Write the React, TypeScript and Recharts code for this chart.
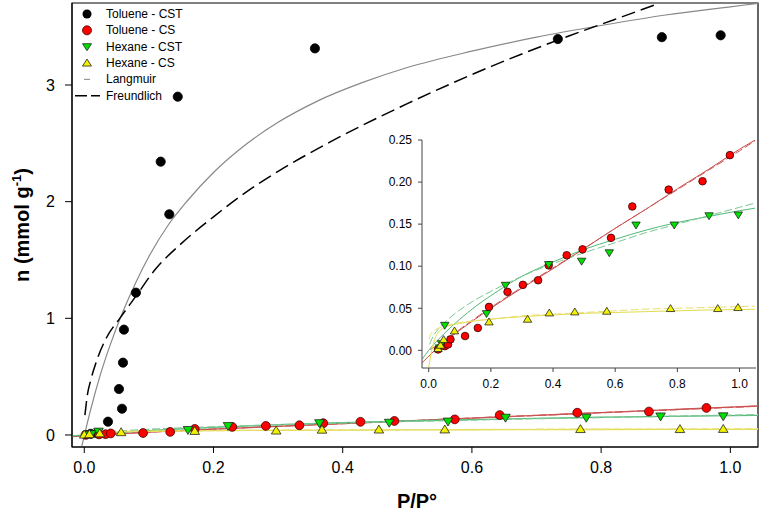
import { ComposedChart, Scatter, Line, XAxis, YAxis, ReferenceArea } from 'recharts'

const tolCstX = [0.01, 0.02, 0.0367, 0.0537, 0.0584, 0.0599, 0.0614, 0.080, 0.1183, 0.1316, 0.1447, 0.357, 0.733, 0.894, 0.985]
const tolCstY = [0.01, 0.015, 0.114, 0.394, 0.225, 0.62, 0.903, 1.22, 2.343, 1.892, 2.90, 3.314, 3.394, 3.41, 3.426]

const tolCsY = [0.001, 0.005, 0.007, 0.013, 0.017, 0.0266, 0.0516, 0.0695, 0.0778, 0.0833, 0.101, 0.113, 0.120, 0.1337, 0.171, 0.191, 0.201, 0.232]
const tolCsXMain = [0.002, 0.023, 0.033, 0.041, 0.091, 0.133, 0.171, 0.229, 0.281, 0.333, 0.37, 0.4275, 0.48, 0.5735, 0.643, 0.763, 0.874, 0.963]
const tolCsXInset = [0.030, 0.052, 0.062, 0.070, 0.117, 0.158, 0.194, 0.2535, 0.303, 0.352, 0.386, 0.444, 0.495, 0.5865, 0.655, 0.772, 0.881, 0.969]

const hexCstY = [0.003, 0.008, 0.0298, 0.0437, 0.0774, 0.102, 0.106, 0.116, 0.149, 0.149, 0.160, 0.161]
const hexCstXMain = [0.005, 0.011, 0.022, 0.1605, 0.2225, 0.364, 0.472, 0.563, 0.652, 0.777, 0.892, 0.989]
const hexCstXInset = [0.035, 0.041, 0.0516, 0.186, 0.247, 0.386, 0.492, 0.581, 0.667, 0.79, 0.902, 0.996]

const hexCsY = [0.002, 0.006, 0.0127, 0.023, 0.0337, 0.0369, 0.0444, 0.0456, 0.0464, 0.0496, 0.0496, 0.0508]
const hexCsXMain = [0.0, 0.008, 0.024, 0.057, 0.171, 0.297, 0.368, 0.456, 0.558, 0.768, 0.922, 0.989]
const hexCsXInset = [0.030, 0.038, 0.048, 0.083, 0.194, 0.318, 0.388, 0.470, 0.573, 0.778, 0.930, 0.995]

// ---- fitted curves ----
const tolLangX = [-0.004, 0.01, 0.024, 0.04, 0.06, 0.08, 0.1, 0.13, 0.16, 0.2, 0.25, 0.3, 0.36, 0.43, 0.5, 0.6, 0.7, 0.8, 0.9, 1.0, 1.043]
const tolLangY = [-0.10, 0.22, 0.50, 0.77, 1.06, 1.31, 1.53, 1.80, 2.01, 2.25, 2.49, 2.68, 2.86, 3.02, 3.15, 3.29, 3.41, 3.51, 3.60, 3.67, 3.70]
const tolFreuX = [0.001, 0.005, 0.01, 0.02, 0.035, 0.055, 0.08, 0.11, 0.15, 0.2, 0.25, 0.3, 0.38, 0.5, 0.63, 0.75, 0.82, 0.89]
const tolFreuY = [0.17, 0.35, 0.47, 0.65, 0.84, 1.00, 1.19, 1.42, 1.64, 1.87, 2.08, 2.26, 2.51, 2.84, 3.16, 3.42, 3.56, 3.70]

const redLangX = [-0.022, 0.05, 0.1, 0.2, 0.3, 0.4, 0.5, 0.6, 0.7, 0.8, 0.9, 1.0, 1.05]
const redLangY = [-0.015, 0.010, 0.024, 0.050, 0.074, 0.097, 0.121, 0.145, 0.168, 0.192, 0.215, 0.239, 0.250]
const redFreuX = [0.005, 0.05, 0.1, 0.2, 0.3, 0.4, 0.5, 0.6, 0.7, 0.8, 0.9, 1.0, 1.05]
const redFreuY = [0.001, 0.011, 0.025, 0.051, 0.075, 0.098, 0.121, 0.145, 0.168, 0.191, 0.214, 0.237, 0.249]

const greenLangX = [-0.02, 0, 0.05, 0.1, 0.15, 0.2, 0.3, 0.4, 0.5, 0.6, 0.7, 0.8, 0.9, 1.0, 1.05]
const greenLangY = [-0.010, 0.000, 0.020, 0.037, 0.052, 0.065, 0.088, 0.105, 0.120, 0.132, 0.143, 0.152, 0.159, 0.166, 0.169]
const greenFreuX = [0.003, 0.01, 0.03, 0.06, 0.1, 0.15, 0.2, 0.3, 0.4, 0.5, 0.6, 0.7, 0.8, 0.9, 1.0, 1.05]
const greenFreuY = [0.007, 0.0135, 0.025, 0.036, 0.048, 0.060, 0.070, 0.088, 0.103, 0.116, 0.128, 0.140, 0.150, 0.160, 0.170, 0.175]

const yellowLangX = [0.0, 0.01, 0.025, 0.05, 0.1, 0.2, 0.3, 0.4, 0.5, 0.6, 0.7, 0.8, 0.9, 1.0, 1.05]
const yellowLangY = [-0.02, 0.0, 0.018, 0.027, 0.032, 0.037, 0.040, 0.042, 0.044, 0.045, 0.046, 0.047, 0.048, 0.0485, 0.0488]
const yellowFreuX = [0.001, 0.005, 0.01, 0.02, 0.035, 0.06, 0.1, 0.2, 0.3, 0.4, 0.5, 0.6, 0.7, 0.8, 0.9, 1.0, 1.05]
const yellowFreuY = [0.013, 0.018, 0.021, 0.024, 0.027, 0.030, 0.033, 0.037, 0.041, 0.043, 0.045, 0.047, 0.049, 0.050, 0.051, 0.052, 0.0525]

const mainXTicks = [0, 0.2, 0.4, 0.6, 0.8, 1.0]
const mainYTicks = [0, 1, 2, 3]
const insetXTicks = [0, 0.2, 0.4, 0.6, 0.8, 1.0]
const insetYTicks = [0, 0.05, 0.1, 0.15, 0.2, 0.25]

const legendItems = ['Toluene - CST', 'Toluene - CS', 'Hexane - CST', 'Hexane - CS', 'Langmuir', 'Freundlich']

const zip = (xs: number[], ys: number[]) => xs.map((x, i) => ({ x, y: ys[i] }))

const FONT = 'Arial, "Liberation Sans", sans-serif'
const RED = '#ff0000'
const GREEN = '#00e000'
const YELLOW = '#f2f200'

const circle = (fill: string, r: number, stroke: string) => (p: any) =>
  <circle cx={p.cx} cy={p.cy} r={r} fill={fill} stroke={stroke} strokeWidth={0.8} />

const triDown = (fill: string, s: number) => (p: any) =>
  <polygon points={`${p.cx - s},${p.cy - s * 0.7} ${p.cx + s},${p.cy - s * 0.7} ${p.cx},${p.cy + s * 0.95}`} fill={fill} stroke="#222" strokeWidth={0.8} />

const triUp = (fill: string, s: number) => (p: any) =>
  <polygon points={`${p.cx - s},${p.cy + s * 0.7} ${p.cx + s},${p.cy + s * 0.7} ${p.cx},${p.cy - s * 0.95}`} fill={fill} stroke="#222" strokeWidth={0.8} />

function fitLines(ax: { xAxisId: string; yAxisId: string }, w: number) {
  return [
    <Line key="rl" {...ax} data={zip(redLangX, redLangY)} dataKey="y" type="monotone" stroke="#d04848" strokeWidth={w} dot={false} activeDot={false} isAnimationActive={false} />,
    <Line key="rf" {...ax} data={zip(redFreuX, redFreuY)} dataKey="y" type="monotone" stroke="#c85a5a" strokeWidth={w} strokeDasharray="8 3" dot={false} activeDot={false} isAnimationActive={false} />,
    <Line key="gl" {...ax} data={zip(greenLangX, greenLangY)} dataKey="y" type="monotone" stroke="#52b878" strokeWidth={w} dot={false} activeDot={false} isAnimationActive={false} />,
    <Line key="gf" {...ax} data={zip(greenFreuX, greenFreuY)} dataKey="y" type="monotone" stroke="#7cc894" strokeWidth={w} strokeDasharray="8 3" dot={false} activeDot={false} isAnimationActive={false} />,
    <Line key="yl" {...ax} data={zip(yellowLangX, yellowLangY)} dataKey="y" type="monotone" stroke="#e2dc4c" strokeWidth={w} dot={false} activeDot={false} isAnimationActive={false} />,
    <Line key="yf" {...ax} data={zip(yellowFreuX, yellowFreuY)} dataKey="y" type="monotone" stroke="#e8e070" strokeWidth={w} strokeDasharray="8 3" dot={false} activeDot={false} isAnimationActive={false} />,
  ]
}

function LegendSymbol({ i, x, y }: { i: number; x: number; y: number }) {
  if (i === 0) return <circle cx={x} cy={y} r={4.5} fill="#000" />
  if (i === 1) return <circle cx={x} cy={y} r={4.5} fill={RED} stroke="#400" strokeWidth={0.8} />
  if (i === 2) return <polygon points={`${x - 4.5},${y - 3} ${x + 4.5},${y - 3} ${x},${y + 4}`} fill={GREEN} stroke="#222" strokeWidth={0.8} />
  if (i === 3) return <polygon points={`${x - 4.5},${y + 3} ${x + 4.5},${y + 3} ${x},${y - 4}`} fill={YELLOW} stroke="#222" strokeWidth={0.8} />
  if (i === 4) return <line x1={x - 3} x2={x + 3} y1={y} y2={y} stroke="#999" strokeWidth={1.2} />
  return <line x1={75} x2={100} y1={y} y2={y} stroke="#000" strokeWidth={1.5} strokeDasharray="12 4" />
}

export default function App() {
  const main = { xAxisId: 'mx', yAxisId: 'my' }
  const ins = { xAxisId: 'ix', yAxisId: 'iy' }
  return (
    <div style={{ position: 'absolute', left: 0, top: 0, width: 768, height: 522, background: '#fff', fontFamily: FONT }}>
      <ComposedChart width={768} height={522} margin={{ top: 3, right: 10, bottom: 25, left: 0 }}>
        <XAxis xAxisId="mx" type="number" dataKey="x" domain={[-0.019, 1.0428]} allowDataOverflow ticks={mainXTicks}
          tickFormatter={(v: number) => v.toFixed(1)} tickSize={6} tickMargin={9} height={50} stroke="#000"
          tick={{ fill: '#000', fontSize: 16, fontFamily: FONT }} />
        <YAxis yAxisId="my" type="number" dataKey="y" domain={[-0.103, 3.703]} allowDataOverflow ticks={mainYTicks}
          tickSize={7} tickMargin={10} width={72} stroke="#000" tick={{ fill: '#000', fontSize: 16, fontFamily: FONT }} />
        <ReferenceArea {...main} x1={-0.019} x2={1.0428} y1={-0.103} y2={3.703} fill="none" stroke="#000" strokeWidth={1.2} ifOverflow="visible" />
        {fitLines(main, 1.3)}
        <Line {...main} data={zip(tolLangX, tolLangY)} dataKey="y" type="monotone" stroke="#888" strokeWidth={1.2} dot={false} activeDot={false} isAnimationActive={false} />
        <Line {...main} data={zip(tolFreuX, tolFreuY)} dataKey="y" type="monotone" stroke="#000" strokeWidth={1.5} strokeDasharray="14 6" dot={false} activeDot={false} isAnimationActive={false} />
        <Scatter {...main} data={zip(tolCstX, tolCstY)} shape={circle('#000', 4.6, '#000')} isAnimationActive={false} />
        <Scatter {...main} data={zip(tolCsXMain, tolCsY)} shape={circle(RED, 4.4, '#400')} isAnimationActive={false} />
        <Scatter {...main} data={zip(hexCstXMain, hexCstY)} shape={triDown(GREEN, 4.8)} isAnimationActive={false} />
        <Scatter {...main} data={zip(hexCsXMain, hexCsY)} shape={triUp(YELLOW, 4.8)} isAnimationActive={false} />
      </ComposedChart>

      <div style={{ position: 'absolute', left: 370, top: 130 }}>
        <ComposedChart width={390} height={260} margin={{ top: 10, right: 4, bottom: 0, left: 0 }}>
          <XAxis xAxisId="ix" type="number" dataKey="x" domain={[-0.0216, 1.053]} allowDataOverflow ticks={insetXTicks}
            tickFormatter={(v: number) => v.toFixed(1)} tickSize={4} tickMargin={7} height={22} stroke="#444"
            tick={{ fill: '#000', fontSize: 12, fontFamily: FONT }} />
          <YAxis yAxisId="iy" type="number" dataKey="y" domain={[-0.021, 0.25]} allowDataOverflow ticks={insetYTicks}
            tickFormatter={(v: number) => v.toFixed(2)} tickSize={4} tickMargin={6} width={52} stroke="#444"
            tick={{ fill: '#000', fontSize: 12, fontFamily: FONT }} />
          {fitLines(ins, 1)}
          <Scatter {...ins} data={zip(tolCsXInset, tolCsY)} shape={circle(RED, 3.8, '#300')} isAnimationActive={false} />
          <Scatter {...ins} data={zip(hexCstXInset, hexCstY)} shape={triDown(GREEN, 4.2)} isAnimationActive={false} />
          <Scatter {...ins} data={zip(hexCsXInset, hexCsY)} shape={triUp(YELLOW, 4.2)} isAnimationActive={false} />
        </ComposedChart>
      </div>

      <svg width={768} height={522} style={{ position: 'absolute', left: 0, top: 0, pointerEvents: 'none' }} fontFamily={FONT}>
        {legendItems.map((name, i) => {
          const y = 14 + i * 16.35
          return (
            <g key={name}>
              <LegendSymbol i={i} x={87} y={y} />
              <text x={106} y={y} fontSize={12} dominantBaseline="central" fill="#000">{name}</text>
            </g>
          )
        })}
        <text transform="translate(29,225) rotate(-90)" textAnchor="middle" fontSize={20} fontWeight="bold" fill="#000">
          n (mmol g<tspan fontSize={13} dy={-8}>-1</tspan><tspan dy={8}>)</tspan>
        </text>
        <text x={417} y={508} textAnchor="middle" fontSize={20} fontWeight="bold" fill="#000">P/P°</text>
      </svg>
    </div>
  )
}
